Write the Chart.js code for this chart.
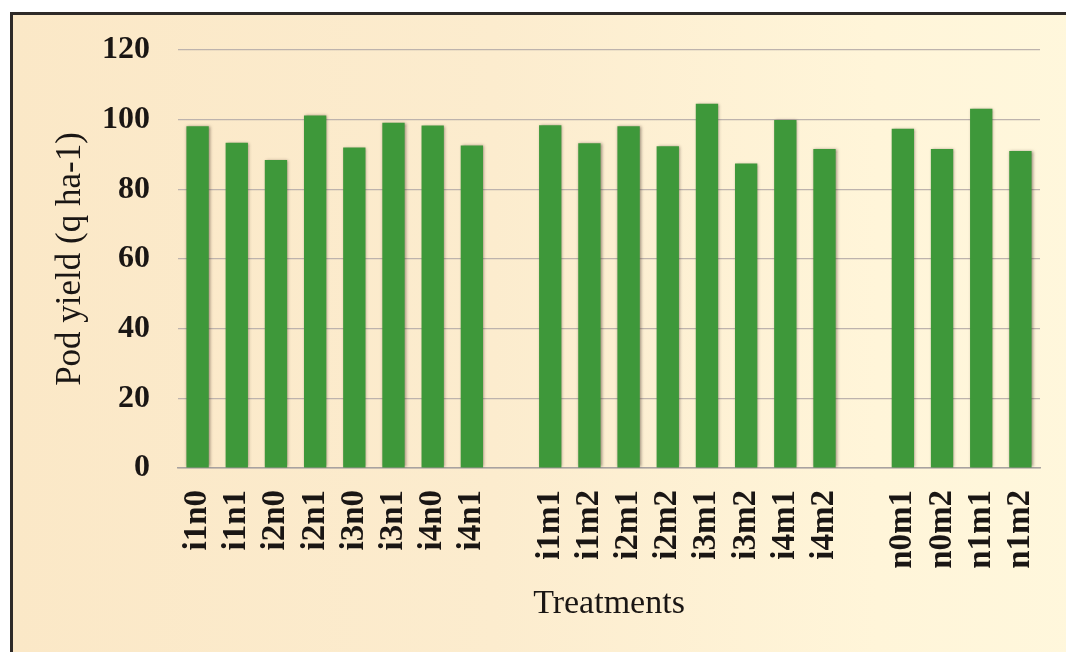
<!DOCTYPE html>
<html>
<head>
<meta charset="utf-8">
<script src="https://cdn.jsdelivr.net/npm/chart.js@4.4.1/dist/chart.umd.min.js"></script>
<style>
  html, body { margin: 0; padding: 0; background: #ffffff; }
  #wrap { position: relative; width: 1066px; height: 652px; overflow: hidden; }
  #frame {
    position: absolute; left: 10px; top: 12px; width: 1200px; height: 800px;
    border-top: 3px solid #2e2a28; border-left: 3px solid #2e2a28;
    background: linear-gradient(90deg, #fbe8c7 0%, #fcecce 40%, #fff5d9 72%, #fff8de 100%);
  }
  #chart { position: absolute; left: 0; top: 0; }
</style>
</head>
<body>
<div id="wrap">
  <div id="frame"></div>
  <canvas id="chart" width="1066" height="652"></canvas>
</div>
<script>
// Treatment labels; empty strings leave a blank slot between groups
const categories = [
  'i1n0', 'i1n1', 'i2n0', 'i2n1', 'i3n0', 'i3n1', 'i4n0', 'i4n1',
  '',
  'i1m1', 'i1m2', 'i2m1', 'i2m2', 'i3m1', 'i3m2', 'i4m1', 'i4m2',
  '',
  'n0m1', 'n0m2', 'n1m1', 'n1m2'
];

// Pod yield (q ha-1) per treatment
const podYield = [
  98.1, 93.4, 88.4, 101.2, 92.0, 99.1, 98.3, 92.6,
  null,
  98.4, 93.2, 98.1, 92.4, 104.6, 87.4, 99.9, 91.6,
  null,
  97.4, 91.6, 103.1, 91.0
];

const yTicks = [0, 20, 40, 60, 80, 100, 120];

// soft dark halo around the bars
const barShadow = {
  id: 'barShadow',
  beforeDatasetsDraw(chart) {
    const ctx = chart.ctx;
    ctx.save();
    ctx.shadowColor = 'rgba(70, 50, 40, 0.55)';
    ctx.shadowBlur = 3;
    ctx.shadowOffsetX = 1;
    ctx.shadowOffsetY = 0;
  },
  afterDatasetsDraw(chart) {
    chart.ctx.restore();
  }
};

new Chart(document.getElementById('chart'), {
  type: 'bar',
  data: {
    labels: categories,
    datasets: [{
      data: podYield,
      backgroundColor: '#3e983a',
      borderWidth: 0,
      categoryPercentage: 1.0,
      barPercentage: 0.57
    }]
  },
  plugins: [barShadow],
  options: {
    responsive: false,
    animation: false,
    events: [],
    layout: { padding: { left: 30, top: 50, right: 26, bottom: 10 } },
    plugins: { legend: { display: false }, tooltip: { enabled: false } },
    scales: {
      x: {
        grid: { display: false, drawTicks: false },
        border: { display: true, color: '#a8a2a0', width: 1.5 },
        ticks: {
          color: '#1a1614',
          font: { family: 'Liberation Serif', size: 33, weight: 'bold' },
          maxRotation: 90, minRotation: 90,
          autoSkip: false,
          padding: 22
        },
        title: {
          display: true,
          text: 'Treatments',
          color: '#1a1614',
          font: { family: 'Liberation Serif', size: 34 },
          padding: { top: 0, bottom: 18 }
        },
        afterFit(scale) {
          scale.height = 174;
          scale.paddingLeft = 0;
          scale.paddingRight = 0;
        }
      },
      y: {
        min: 0, max: 120,
        afterBuildTicks(scale) { scale.ticks = yTicks.map(v => ({ value: v })); },
        grid: { color: '#bdb3ad', lineWidth: 1.2, drawTicks: false },
        border: { display: false },
        ticks: {
          color: '#1a1614',
          font: { family: 'Liberation Serif', size: 32, weight: 'bold' },
          padding: 28
        },
        title: {
          display: true,
          text: 'Pod yield (q ha-1)',
          color: '#1a1614',
          font: { family: 'Liberation Serif', size: 35 },
          padding: { top: 20, bottom: 0 }
        },
        afterFit(scale) { scale.width = 148; }
      }
    }
  }
});
</script>
</body>
</html>
